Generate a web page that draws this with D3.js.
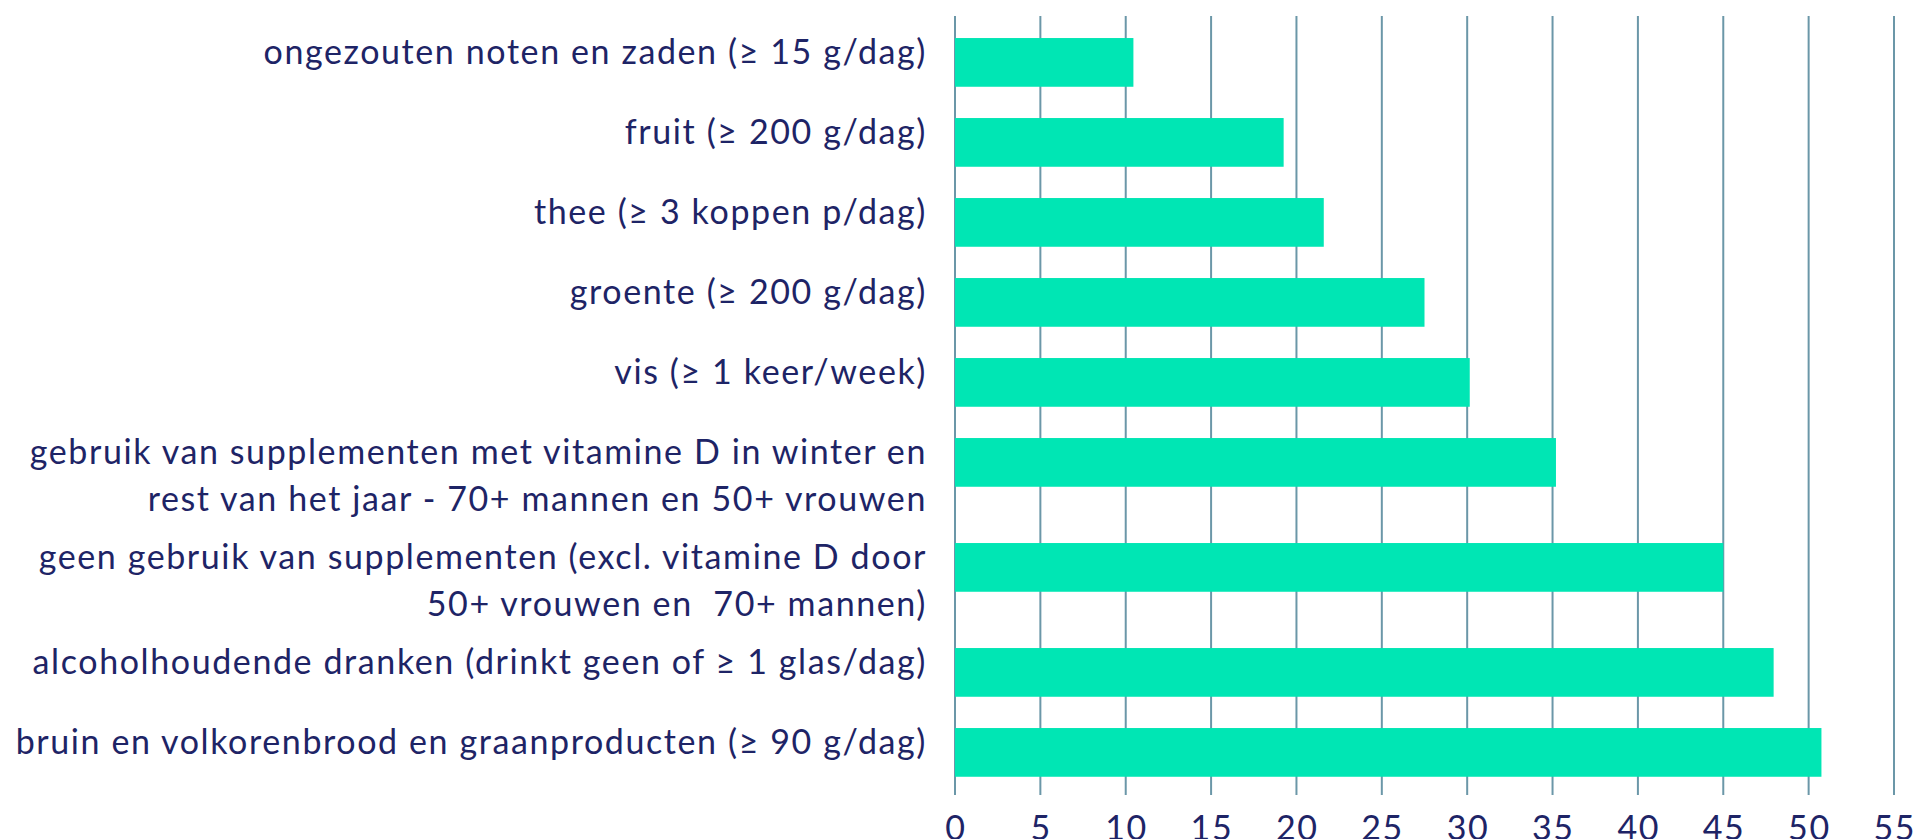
<!DOCTYPE html>
<html>
<head>
<meta charset="utf-8">
<script src="https://cdn.jsdelivr.net/npm/d3@7"></script>
<style>
  html, body { margin: 0; padding: 0; background: #fff; overflow: hidden; }
  text { font-family: Lato, "Open Sans", sans-serif; fill: #1e2466; white-space: pre; }
</style>
</head>
<body>
<svg id="chart" width="1915" height="839"></svg>
<script>
// labels, one entry per line
var categories = [
  ["ongezouten noten en zaden (≥ 15 g/dag)"],
  ["fruit (≥ 200 g/dag)"],
  ["thee (≥ 3 koppen p/dag)"],
  ["groente (≥ 200 g/dag)"],
  ["vis (≥ 1 keer/week)"],
  ["gebruik van supplementen met vitamine D in winter en", "rest van het jaar - 70+ mannen en 50+ vrouwen"],
  ["geen gebruik van supplementen (excl. vitamine D door", "50+ vrouwen en  70+ mannen)"],
  ["alcoholhoudende dranken (drinkt geen of ≥ 1 glas/dag)"],
  ["bruin en volkorenbrood en graanproducten (≥ 90 g/dag)"]
];
var values = [10.45, 19.25, 21.6, 27.5, 30.15, 35.2, 45.0, 47.95, 50.75];
var ticks = [0, 5, 10, 15, 20, 25, 30, 35, 40, 45, 50, 55];

var svg = d3.select("#chart");

var x = d3.scaleLinear().domain([0, 55]).range([955, 1894]);

// every extra label line makes the row a bit taller
var extra = 0.3125;
var rows = [], pos = 0;
categories.forEach(function(c, i) {
  var size = 1 + extra * (c.length - 1);
  rows.push({lines: c, value: values[i], start: pos, size: size});
  pos += size;
});
var y = d3.scaleLinear().domain([0, pos]).range([22.4, 792.4]);
var unit = y(1) - y(0);
var barH = unit * 0.609;
var barOff = (unit - barH) / 2;

// grid
svg.append("g")
  .selectAll("line")
  .data(ticks)
  .enter().append("line")
    .attr("x1", function(d) { return x(d); })
    .attr("x2", function(d) { return x(d); })
    .attr("y1", 16)
    .attr("y2", 795)
    .style("stroke", "#6b97a8")
    .style("stroke-width", 2);

svg.append("g")
  .selectAll("text")
  .data(ticks)
  .enter().append("text")
    .attr("x", function(d) { return x(d) + 0.8; })
    .attr("y", 840)
    .attr("text-anchor", "middle")
    .style("font-size", "34px")
    .style("letter-spacing", "1.6px")
    .text(function(d) { return d; });

// bars
svg.append("g")
  .selectAll("rect")
  .data(rows)
  .enter().append("rect")
    .attr("x", x(0))
    .attr("y", function(d) { return y(d.start) + barOff; })
    .attr("width", function(d) { return x(d.value) - x(0); })
    .attr("height", barH)
    .style("fill", "#00e6b4");

// labels
var lab = svg.append("g")
  .selectAll("text")
  .data(rows)
  .enter().append("text")
    .attr("x", 927)
    .attr("y", function(d) { return y(d.start) + barOff + barH / 2 + 2; })
    .attr("text-anchor", "end")
    .style("font-size", "34px")
    .style("letter-spacing", "1.6px");

lab.selectAll("tspan")
  .data(function(d) { return d.lines; })
  .enter().append("tspan")
    .attr("x", 927)
    .attr("dy", function(d, i) { return i ? 46.5 : 0; })
    .text(function(d) { return d; });
</script>
</body>
</html>
